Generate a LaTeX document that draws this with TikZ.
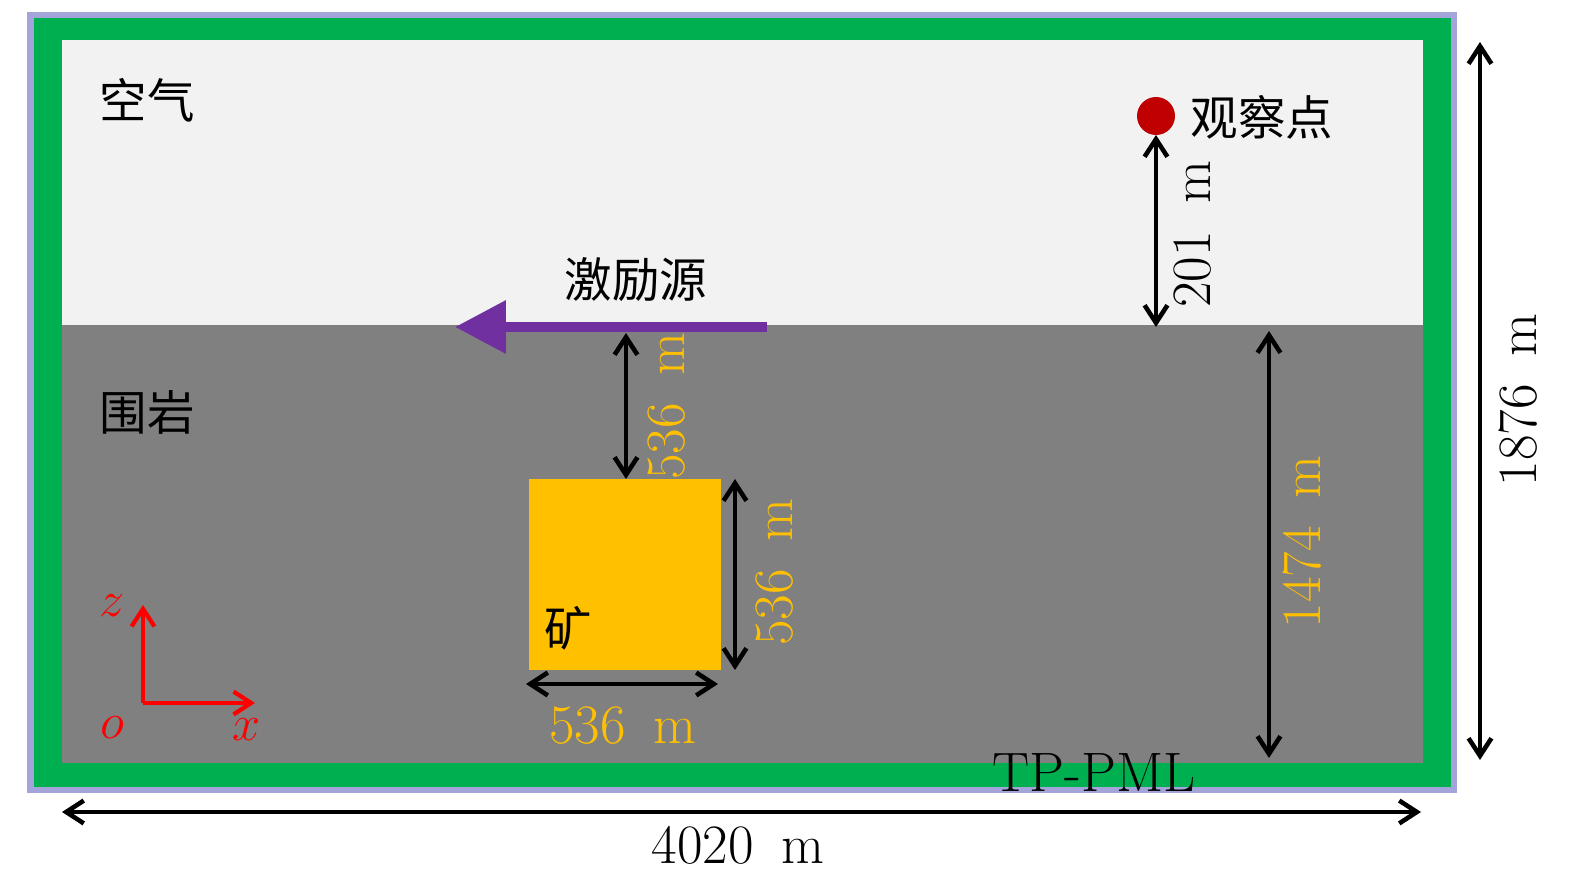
\documentclass[tikz,border=0pt]{standalone}
\usepackage{fontspec}
\newfontfamily\cjk{Noto Sans CJK SC}
\usetikzlibrary{arrows.meta}
\definecolor{pmlgreen}{RGB}{0,176,80}
\definecolor{pmledge}{RGB}{164,164,218}
\definecolor{airgray}{RGB}{242,242,242}
\definecolor{rockgray}{RGB}{128,128,128}
\definecolor{oreyellow}{RGB}{255,192,0}
\definecolor{srcpurple}{RGB}{112,48,160}
\definecolor{obsred}{RGB}{192,0,0}
\begin{document}
\begin{tikzpicture}[x=0.01cm,y=-0.01cm,inner sep=0pt,outer sep=0pt,
every node/.style={font=\fontsize{15.8}{18}\selectfont},
dimarrow/.style={{Straight Barb[length=5pt,width=6.5pt]}-{Straight Barb[length=5pt,width=6.5pt]},line width=1.3pt,black},
axisarrow/.style={-{Straight Barb[length=5pt,width=6.5pt]},line width=1.2pt,red},
dimlabel/.style={rotate=90},
zhlabel/.style={font=\fontsize{13.5}{16}\selectfont\cjk}]
\useasboundingbox (0,0) rectangle (1575,886);
\fill[pmledge] (27,12) rectangle (1457,793);
\fill[pmlgreen] (34,18) rectangle (1451,787);
\fill[airgray] (62,40) rectangle (1423,325);
\fill[rockgray] (62,325) rectangle (1423,763);
\fill[oreyellow] (529,479) rectangle (721,670);
\draw (147,100) node[zhlabel] (air) {空气};
\draw (147,412) node[zhlabel] (rock) {围岩};
\draw (568,628) node[zhlabel] (ore) {矿};
\draw (636,280) node[zhlabel] (src) {激励源};
\draw (1156,116) node[circle,fill=obsred,minimum size=38*0.01cm] (obs) {};
\draw (1262,117) node[zhlabel] (obstext) {观察点};
\coordinate (srcR) at (767,327);
\coordinate (srcL) at (455,327);
\draw[-{Triangle[length=14.5pt,width=14.5pt]},line width=2.8pt,srcpurple] (srcR) -- (srcL);
\coordinate (oreTop) at (626,479);
\draw[dimarrow] (626,333) -- (oreTop);
\draw (667,406) node[dimlabel,text=oreyellow] (depth) {536\enspace m};
\draw[dimarrow] (735,479) -- (735,670);
\draw (775,572) node[dimlabel,text=oreyellow] (oreH) {536\enspace m};
\draw[dimarrow] (526,684) -- (718,684);
\draw (623,726) node[text=oreyellow] (oreW) {536\enspace m};
\draw[dimarrow] (obs.south) -- (1156,327);
\draw (1193,234) node[dimlabel] (obsH) {201\enspace m};
\draw[dimarrow] (1269,331) -- (1269,758);
\draw (1302,542) node[dimlabel,text=oreyellow] (rockH) {1474\enspace m};
\draw[dimarrow] (1480,42) -- (1480,760);
\draw (1518,400) node[dimlabel] (totH) {1876\enspace m};
\draw[dimarrow] (62,812) -- (1421,812);
\draw (738,845) node (totW) {4020\enspace m};
\draw (1094,773) node (pml) {TP-PML};
\coordinate (orig) at (143,703);
\draw[axisarrow] (orig) -- (143,605);
\draw[axisarrow] (orig) -- (255,703);
\draw (112,606) node[text=red] (zlab) {$z$};
\draw (112,728) node[text=red] (olab) {$o$};
\draw (247,730) node[text=red] (xlab) {$x$};
\end{tikzpicture}
\end{document}
